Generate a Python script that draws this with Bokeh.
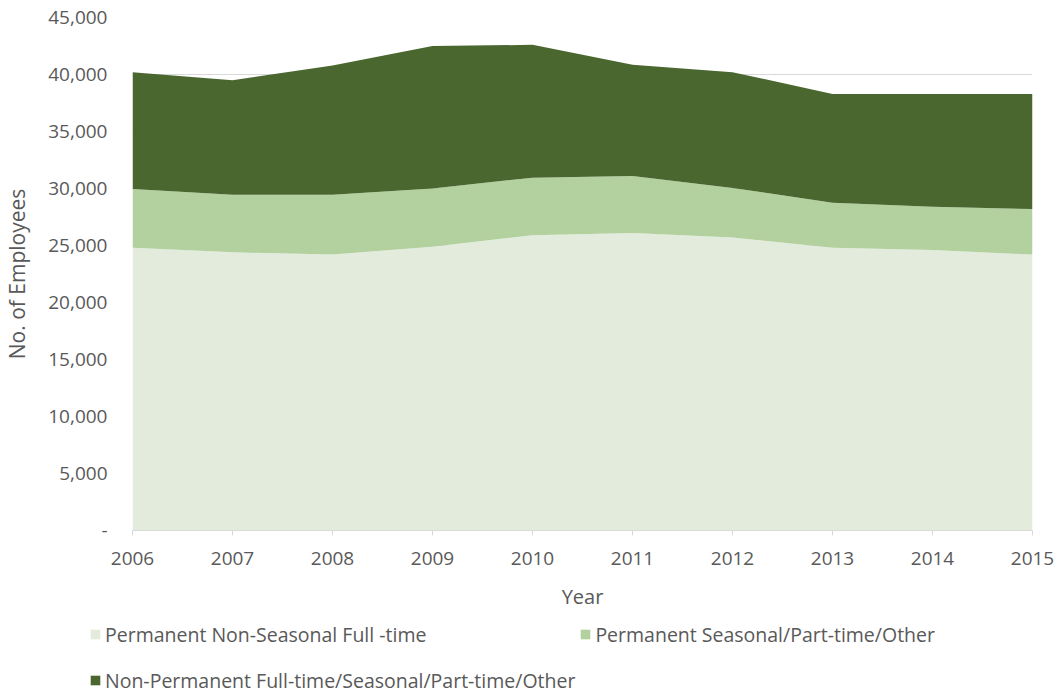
from bokeh.plotting import figure
from bokeh.layouts import column
from bokeh.models import (ColumnDataSource, FixedTicker, NumeralTickFormatter,
                          Legend, LegendItem, Range1d)
from bokeh.embed import file_html
from bokeh.resources import INLINE

years = [2006, 2007, 2008, 2009, 2010, 2011, 2012, 2013, 2014, 2015]
perm_non_seasonal = [24800, 24400, 24200, 24900, 25900, 26100, 25700, 24800, 24600, 24200]
perm_seasonal = [5150, 5050, 5250, 5100, 5050, 5000, 4350, 3950, 3800, 4000]
non_permanent = [10250, 10050, 11350, 12500, 11650, 9750, 10150, 9550, 9900, 10100]
series_names = ["Permanent Non-Seasonal Full -time",
                "Permanent Seasonal/Part-time/Other",
                "Non-Permanent Full-time/Seasonal/Part-time/Other"]
y_ticks = [0, 5000, 10000, 15000, 20000, 25000, 30000, 35000, 40000, 45000]
colors = ["#e3ebdd", "#b3d19e", "#4a6730"]

FONT = "Open Sans"
TXT = "#595959"

source = ColumnDataSource(dict(year=years, a=perm_non_seasonal,
                               b=perm_seasonal, c=non_permanent))

p = figure(width=1057, height=612, output_backend="svg", toolbar_location=None,
           x_range=Range1d(2006, 2015), y_range=Range1d(0, 45000),
           min_border_left=132, min_border_right=25, min_border_top=17,
           min_border_bottom=81)
p.outline_line_color = None
p.background_fill_color = "white"
p.border_fill_color = "white"
p.frame_align = False

rs = p.varea_stack(stackers=["a", "b", "c"], x="year", color=colors, source=source)

# axes
p.xaxis.ticker = FixedTicker(ticks=years)
p.xaxis.axis_label = "Year"
p.xaxis.axis_line_color = "#d9d9d9"
p.xaxis.major_tick_line_color = "#d9d9d9"
p.xaxis.major_tick_out = 5
p.xaxis.major_tick_in = 0
p.xaxis.minor_tick_line_color = None
p.xaxis.major_label_standoff = 16
p.xaxis.axis_label_standoff = 15
p.xaxis.major_label_text_font = FONT
p.xaxis.major_label_text_font_size = "19px"
p.xaxis.major_label_text_color = TXT
p.xaxis.axis_label_text_font = FONT
p.xaxis.axis_label_text_font_size = "20px"
p.xaxis.axis_label_text_font_style = "normal"
p.xaxis.axis_label_text_color = TXT

p.yaxis.ticker = FixedTicker(ticks=y_ticks)
p.yaxis.formatter = NumeralTickFormatter(format="0,0")
p.yaxis.major_label_overrides = {0: "-"}
p.yaxis.axis_label = "No. of Employees"
p.yaxis.axis_line_color = None
p.yaxis.major_tick_line_color = None
p.yaxis.major_tick_out = 0
p.yaxis.major_tick_in = 0
p.yaxis.minor_tick_line_color = None
p.yaxis.major_label_standoff = 25
p.yaxis.axis_label_standoff = 14
p.yaxis.major_label_text_font = FONT
p.yaxis.major_label_text_font_size = "19px"
p.yaxis.major_label_text_color = TXT
p.yaxis.axis_label_text_font = FONT
p.yaxis.axis_label_text_font_size = "21px"
p.yaxis.axis_label_text_font_style = "normal"
p.yaxis.axis_label_text_color = TXT

p.xgrid.grid_line_color = None
p.ygrid.grid_line_color = "#d9d9d9"
p.ygrid.grid_line_width = 1

# legend strip below the chart
lg = figure(width=1057, height=80, output_backend="svg", toolbar_location=None,
            x_range=Range1d(0, 1), y_range=Range1d(0, 1),
            min_border_left=0, min_border_right=0, min_border_top=0,
            min_border_bottom=0)
lg.frame_align = False
lg.axis.visible = False
lg.grid.visible = False
lg.outline_line_color = None
lg.border_fill_color = "white"
lg.background_fill_color = "white"
# off-screen swatch renderers (outside the visible range) used only by the legend
dummies = [lg.varea(x=[5, 6], y1=[5, 5], y2=[6, 6], color=c) for c in colors]
items = [LegendItem(label=n, renderers=[r]) for n, r in zip(series_names, dummies)]
legend = Legend(items=items, location=(89, -9), orientation="horizontal", ncols=2,
                glyph_width=12, glyph_height=12, label_standoff=4,
                label_height=42, spacing=4, padding=0, margin=0,
                border_line_color=None, background_fill_alpha=0,
                label_text_font=FONT, label_text_font_size="19.5px",
                label_text_color=TXT)
lg.add_layout(legend, "center")

layout = column(p, lg, spacing=0)
open("out.html", "w").write(file_html(layout, INLINE))
